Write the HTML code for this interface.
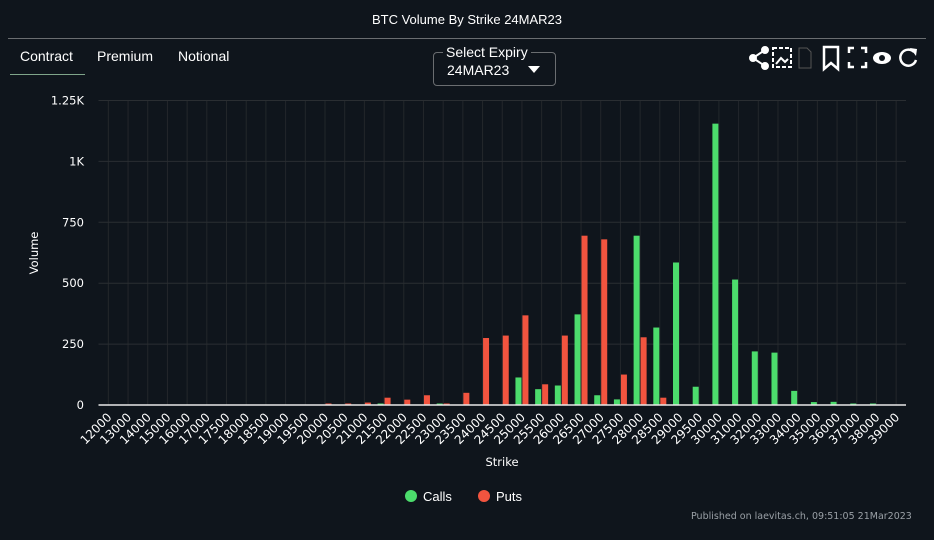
<!DOCTYPE html>
<html><head><meta charset="utf-8"><style>
body{margin:0;background:#0f151c;width:934px;height:540px;overflow:hidden;font-family:"Liberation Sans",sans-serif;color:#fff;position:relative}
.abs{position:absolute}
</style></head><body>
<div class="abs" style="left:0;width:934px;top:12px;text-align:center;font-size:13px">BTC Volume By Strike 24MAR23</div>
<div class="abs" style="left:8px;width:918px;top:38px;height:1px;background:#6a6d70"></div>
<div class="abs" style="left:20px;top:48px;font-size:14px">Contract</div>
<div class="abs" style="left:10px;top:74px;width:75px;height:1px;background:#7fa58a"></div>
<div class="abs" style="left:97px;top:48px;font-size:14px">Premium</div>
<div class="abs" style="left:178px;top:48px;font-size:14px">Notional</div>
<div class="abs" style="left:433px;top:52px;width:121px;height:32px;border:1px solid #6a6d70;border-radius:4px"></div>
<div class="abs" style="left:443px;top:44px;font-size:14px;background:#0f151c;padding:0 3px">Select Expiry</div>
<div class="abs" style="left:447px;top:62px;font-size:14px">24MAR23</div>
<div class="abs" style="left:528px;top:66px;width:0;height:0;border-left:6px solid transparent;border-right:6px solid transparent;border-top:7px solid #fff"></div>
<svg class="abs" style="left:745px;top:44px" width="180" height="28">
<g fill="#fff" stroke="#fff" stroke-width="2"><circle cx="20" cy="6" r="3"/><circle cx="8" cy="14" r="3"/><circle cx="20" cy="22" r="3"/><line x1="8" y1="14" x2="20" y2="6"/><line x1="8" y1="14" x2="20" y2="22"/></g>
<g stroke="#fff" stroke-width="2" fill="none"><rect x="28" y="4" width="18" height="19" stroke-dasharray="4 2"/><path d="M31 20 L36 14 L40 18 L43 15" /></g>
<g stroke="#555" fill="none"><path d="M54 4 H62 L66 8 V24 H54 Z"/></g>
<path d="M79 3 H93 V25 L86 19 L79 25 Z" stroke="#fff" stroke-width="2.5" fill="none"/>
<g stroke="#fff" stroke-width="2.5" fill="none"><path d="M104 9 V4 H109 M116 4 H121 V9 M121 18 V23 H116 M109 23 H104 V18"/></g>
<g><ellipse cx="137" cy="14" rx="9" ry="6" fill="#fff"/><circle cx="137" cy="14" r="3" fill="#0f151c"/></g>
<g><path d="M169 8 A8 8 0 1 0 171 16" stroke="#fff" stroke-width="2.5" fill="none"/><path d="M165 4 L172 5 L171 12 Z" fill="#fff"/></g>
</svg>
<svg id="chart" class="abs" style="left:0;top:0" width="934" height="540"></svg>
<div class="abs" style="left:405px;top:489px;font-size:13px"><span style="display:inline-block;width:12px;height:12px;border-radius:6px;background:#4cdc6c;vertical-align:-1px;margin-right:6px"></span>Calls</div>
<div class="abs" style="left:478px;top:489px;font-size:13px"><span style="display:inline-block;width:12px;height:12px;border-radius:6px;background:#f2543f;vertical-align:-1px;margin-right:6px"></span>Puts</div>
<div class="abs" style="left:691px;top:511px;font-size:9.5px;color:#9aa0a6;font-family:'DejaVu Sans',sans-serif">Published on laevitas.ch, 09:51:05 21Mar2023</div>
<script>
const strikes=["12000","13000","14000","15000","16000","17000","17500","18000","18500","19000","19500","20000","20500","21000","21500","22000","22500","23000","23500","24000","24500","25000","25500","26000","26500","27000","27500","28000","28500","29000","29500","30000","31000","32000","33000","34000","35000","36000","37000","38000","39000"];
const calls=[0,0,0,0,0,0,0,0,0,0,0,0,0,0,2,0,0,3,0,0,0,113,65,80,372,40,23,695,318,585,75,1155,515,220,215,58,12,13,6,3,0];
const puts=[0,0,0,0,0,0,0,0,0,0,0,3,3,10,30,22,40,5,50,275,285,368,85,285,695,680,125,278,30,0,0,0,0,0,0,0,0,0,0,0,0];
const yTicks=[0,250,500,750,1000,1250];
const yTickLabels=["0","250","500","750","1K","1.25K"];
const NS="http://www.w3.org/2000/svg";
const svg=document.getElementById('chart');
const L=98.5,R=906,T=100.5,B=405,YMAX=1250;
const step=(R-L)/strikes.length;
const xc=i=>L+(i+0.5)*step;
const y=v=>B-v/YMAX*(B-T);
function mk(tag,attrs){const e=document.createElementNS(NS,tag);for(const k in attrs)e.setAttribute(k,attrs[k]);svg.appendChild(e);return e;}
strikes.forEach((s,i)=>{const g=mk('line',{x1:xc(i),x2:xc(i),y1:T,y2:B,stroke:'#23272b','stroke-width':1});

});
yTicks.forEach((v,i)=>{const g=mk('line',{x1:L,x2:R,y1:y(v),y2:y(v),stroke:'#2a2e32','stroke-width':1});


const t=mk('text',{x:84,y:y(v)+4,'text-anchor':'end','font-size':11.5,fill:'#fff','font-family':'DejaVu Sans,sans-serif'});t.textContent=yTickLabels[i];

});
strikes.forEach((s,i)=>{
if(calls[i]>0){const h=Math.max(1.5,B-y(calls[i]));const r=mk('rect',{x:xc(i)-6.5,y:B-h,width:6,height:h,fill:'#4cdc6c'});

}
if(puts[i]>0){const h=Math.max(1.5,B-y(puts[i]));const r=mk('rect',{x:xc(i)+0.5,y:B-h,width:6,height:h,fill:'#f2543f'});

}
const t=mk('text',{x:0,y:0,'text-anchor':'end','font-size':12,fill:'#fff','font-family':'DejaVu Sans,sans-serif',transform:`translate(${xc(i)+4},${B+13}) rotate(-45)`});t.textContent=s;

});
const ax=mk('line',{x1:L,x2:R,y1:B,y2:B,stroke:'#e8e8e8','stroke-width':1.5});


const xt=mk('text',{x:502,y:466,'text-anchor':'middle','font-size':11.5,fill:'#fff','font-family':'DejaVu Sans,sans-serif'});xt.textContent='Strike';


const yt=mk('text',{x:0,y:0,'text-anchor':'middle','font-size':11.5,fill:'#fff','font-family':'DejaVu Sans,sans-serif',transform:'translate(38,253) rotate(-90)'});yt.textContent='Volume';


</script>
</body></html>
